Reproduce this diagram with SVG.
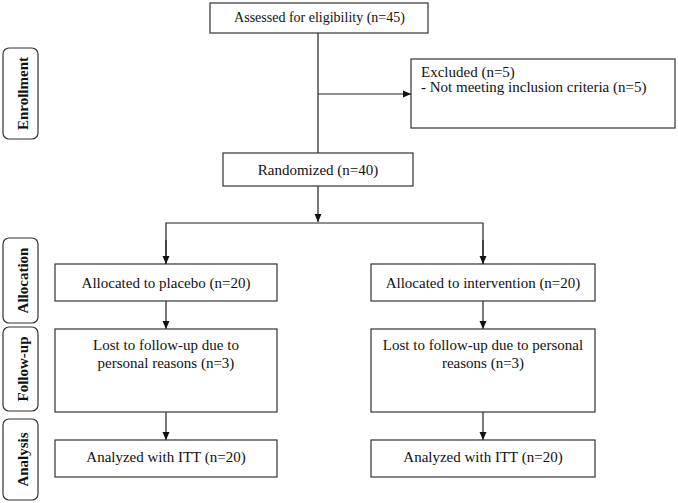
<svg xmlns="http://www.w3.org/2000/svg" width="678" height="503" viewBox="0 0 678 503">
<style>
.box{fill:#fff;stroke:#333;stroke-width:1.2}
.lab{fill:#fff;stroke:#333;stroke-width:1.2}
.t{font-family:"Liberation Serif","Times New Roman",serif;font-size:15px;fill:#111}
.c{text-anchor:middle}
.b{font-weight:bold;text-anchor:middle}
.ln{fill:none;stroke:#222;stroke-width:1.2}
</style>
<defs>
<marker id="ah" markerWidth="8" markerHeight="8" refX="8" refY="4" orient="auto" markerUnits="userSpaceOnUse">
<path d="M0,0.5 L8,4 L0,7.5 Z" fill="#111"/>
</marker>
</defs>
<rect width="678" height="503" fill="#fff"/>
<g id="label-enrollment"><rect class="lab" x="3" y="48" width="35" height="91" rx="6"/><text class="t b" transform="translate(28,93.5) rotate(-90)">Enrollment</text></g>
<g id="label-allocation"><rect class="lab" x="3" y="238" width="35" height="85" rx="6"/><text class="t b" transform="translate(28,280.5) rotate(-90)">Allocation</text></g>
<g id="label-followup"><rect class="lab" x="3" y="327" width="35" height="84" rx="6"/><text class="t b" transform="translate(28,369) rotate(-90)">Follow-up</text></g>
<g id="label-analysis"><rect class="lab" x="3" y="419" width="35" height="81" rx="6"/><text class="t b" transform="translate(28,459.5) rotate(-90)">Analysis</text></g>
<g id="connectors">
<path class="ln" d="M318,33 V153"/>
<path class="ln" d="M318,94 H411" marker-end="url(#ah)"/>
<path class="ln" d="M318,186 V222" marker-end="url(#ah)"/>
<path class="ln" d="M166,264 V223 H483 V264" />
<path class="ln" d="M166,240 V264" marker-end="url(#ah)"/>
<path class="ln" d="M483,240 V264" marker-end="url(#ah)"/>
<path class="ln" d="M166,301 V329" marker-end="url(#ah)"/>
<path class="ln" d="M483,301 V329" marker-end="url(#ah)"/>
<path class="ln" d="M166,412 V440" marker-end="url(#ah)"/>
<path class="ln" d="M483,412 V440" marker-end="url(#ah)"/>
</g>
<g id="assessed"><rect class="box" x="210" y="3" width="218" height="30"/><text class="t c" x="319.5" y="22" style="font-size:14px">Assessed for eligibility (n=45)</text></g>
<g id="excluded"><rect class="box" x="411" y="59" width="264" height="69"/><text class="t" x="421" y="77">Excluded (n=5)</text><text class="t" x="421" y="92">- Not meeting inclusion criteria (n=5)</text></g>
<g id="randomized"><rect class="box" x="223" y="153" width="190" height="33"/><text class="t c" x="318" y="175">Randomized (n=40)</text></g>
<g id="alloc-placebo"><rect class="box" x="55" y="264" width="222" height="37"/><text class="t c" x="166" y="288">Allocated to placebo (n=20)</text></g>
<g id="alloc-intervention"><rect class="box" x="371" y="264" width="224" height="37"/><text class="t c" x="483" y="288">Allocated to intervention (n=20)</text></g>
<g id="followup-placebo"><rect class="box" x="55" y="329" width="222" height="83"/><text class="t c" x="166" y="350">Lost to follow-up due to</text><text class="t c" x="166" y="368">personal reasons (n=3)</text></g>
<g id="followup-intervention"><rect class="box" x="371" y="329" width="224" height="83"/><text class="t c" x="483" y="350">Lost to follow-up due to personal</text><text class="t c" x="483" y="368">reasons (n=3)</text></g>
<g id="analysis-placebo"><rect class="box" x="55" y="440" width="222" height="37"/><text class="t c" x="166" y="462">Analyzed with ITT (n=20)</text></g>
<g id="analysis-intervention"><rect class="box" x="371" y="440" width="224" height="37"/><text class="t c" x="483" y="462">Analyzed with ITT (n=20)</text></g>
</svg>
